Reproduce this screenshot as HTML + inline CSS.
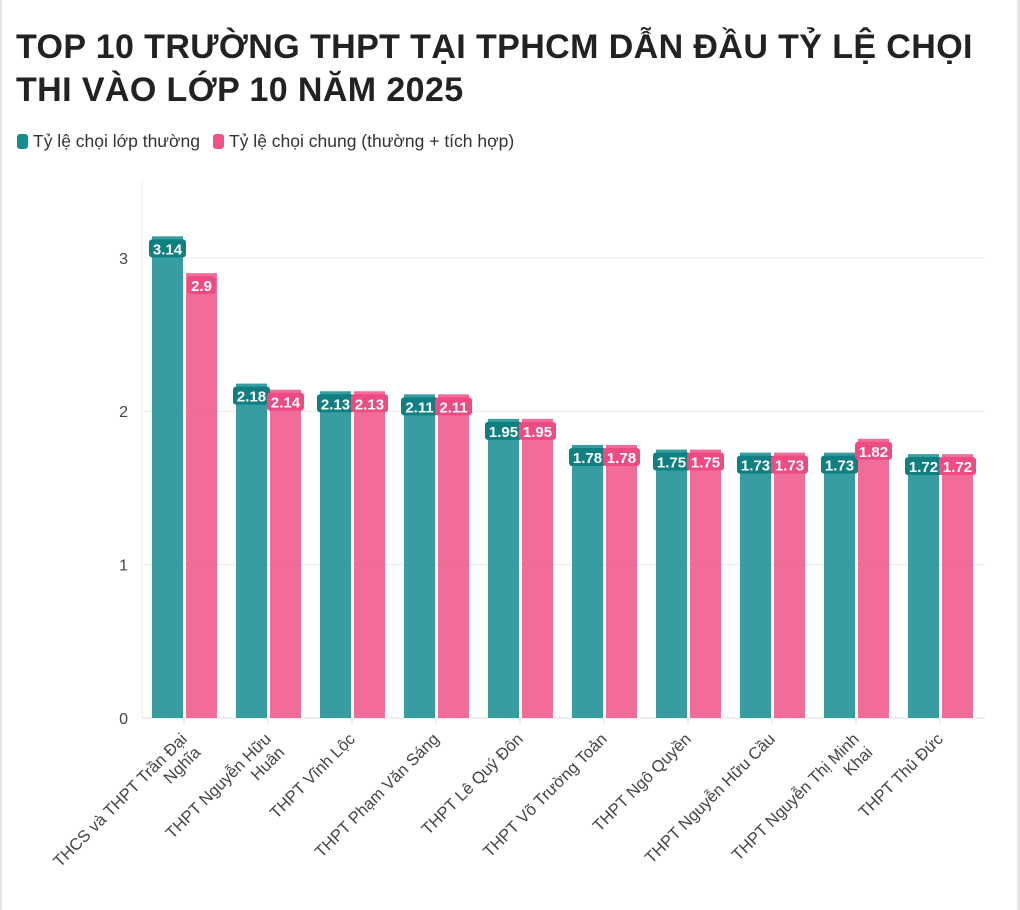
<!DOCTYPE html>
<html><head><meta charset="utf-8"><style>
body{margin:0;background:#fff;font-family:"Liberation Sans",sans-serif;}
#wrap{position:relative;width:1020px;height:910px;overflow:hidden;border-left:2px solid #e6e6e6;border-right:3px solid #e6e6e6;box-sizing:border-box}
h1{position:absolute;left:14px;top:26px;margin:0;font-size:34px;letter-spacing:0.4px;line-height:43px;font-weight:bold;color:#222;width:990px}
.leg{position:absolute;top:131px;font-size:17.5px;color:#333;display:flex;align-items:center}
.sw{width:11px;height:15px;border-radius:3px;margin-right:5px;display:inline-block}
</style></head><body>
<div id="wrap">
<h1>TOP 10 TRƯỜNG THPT TẠI TPHCM DẪN ĐẦU TỶ LỆ CHỌI THI VÀO LỚP 10 NĂM 2025</h1>
<div class="leg" style="left:15px"><span class="sw" style="background:#138d90"></span>Tỷ lệ chọi lớp thường</div>
<div class="leg" style="left:211px"><span class="sw" style="background:#f0528a"></span>Tỷ lệ chọi chung (thường + tích hợp)</div>
<svg id="chart" width="1020" height="910" style="position:absolute;left:-2px;top:0"></svg>
</div>
<script>
const categories=[["THCS và THPT Trần Đại","Nghĩa"],["THPT Nguyễn Hữu","Huân"],["THPT Vĩnh Lộc"],["THPT Phạm Văn Sáng"],["THPT Lê Quý Đôn"],["THPT Võ Trường Toản"],["THPT Ngô Quyền"],["THPT Nguyễn Hữu Cầu"],["THPT Nguyễn Thị Minh","Khai"],["THPT Thủ Đức"]];
const regular=[3.14,2.18,2.13,2.11,1.95,1.78,1.75,1.73,1.73,1.72];
const combined=[2.9,2.14,2.13,2.11,1.95,1.78,1.75,1.73,1.82,1.72];
const yTicks=[0,1,2,3];
const svg=document.getElementById('chart');
const NS='http://www.w3.org/2000/svg';
const x0=142,step=84,yBase=718,pxPerUnit=153.4;
const y=v=>yBase-v*pxPerUnit;
const xc=i=>x0+step*(i+0.5);
function mk(t,a){const e=document.createElementNS(NS,t);for(const k in a)e.setAttribute(k,a[k]);svg.appendChild(e);return e;}
yTicks.forEach(t=>{
 const g=mk('line',{x1:x0,x2:985,y1:y(t),y2:y(t),stroke:t===0?'#ddd':'#ececec','stroke-width':1});
 
 
 const l=mk('text',{x:128,y:y(t)+6,'text-anchor':'end','font-size':16,fill:'#444','font-family':'Liberation Sans,sans-serif'});
 l.textContent=t;
 
 
});
const ax=mk('line',{x1:x0,x2:x0,y1:180,y2:yBase,stroke:'#eee'});


function bar(i,v,off,color,dark,name){
 const bx=xc(i)+off, w=31;
 const r=mk('rect',{x:bx,y:y(v),width:w,height:yBase-y(v),fill:color,opacity:0.85});
 
 
 const s=String(v);
 const tw=s.length*8.5+3;
 const bg=mk('rect',{x:bx+w/2-tw/2,y:y(v)+3,width:tw,height:18,rx:3,fill:dark});
 
 
 const t=mk('text',{x:bx+w/2,y:y(v)+18,'text-anchor':'middle','font-size':15,'font-weight':'bold',fill:'#fff','font-family':'Liberation Sans,sans-serif'});
 t.textContent=s;
 
 
}
categories.forEach((c,i)=>{
 bar(i,regular[i],-32,'#138d90','#0f7f82','bar-regular-'+i);
 bar(i,combined[i],2,'#f0528a','#ee4a84','bar-combined-'+i);
 const tk=mk('line',{x1:xc(i),x2:xc(i),y1:yBase,y2:yBase+6,stroke:'#ddd'});
 
 
 const ax=xc(i)+4, ay=yBase+22;
 const t=mk('text',{transform:`translate(${ax},${ay}) rotate(-45)`,'text-anchor':'end','font-size':16.5,fill:'#444','font-family':'Liberation Sans,sans-serif'});
 
 
 c.forEach((line,k)=>{const ts=document.createElementNS(NS,'tspan');ts.setAttribute('x',0);ts.setAttribute('y',k*19);ts.textContent=line;t.appendChild(ts);});
});
</script>
</body></html>
